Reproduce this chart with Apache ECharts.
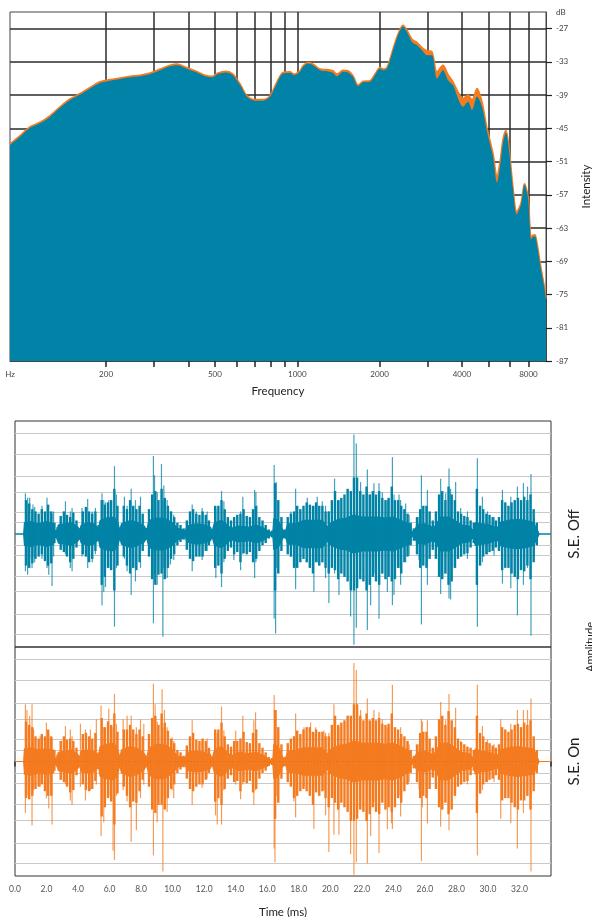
<!DOCTYPE html>
<html><head><meta charset="utf-8">
<script src="https://cdn.jsdelivr.net/npm/echarts@6/dist/echarts.min.js"></script>
<style>html,body{margin:0;padding:0;background:#fff;}#c{width:592px;height:917px;}</style>
</head><body><div id="c"></div>
<script>
const FONT = 'Lato, "Open Sans", sans-serif';
const BLUE = '#0083a6', ORANGE = '#f47b20';

// ---------- spectrum ----------
const specFreq = [89.1,97,105.5,114.8,124.9,135.8,147.7,160.7,174.8,190,207,225,245,266,290,315,343,364,389,423,460,488,513,549,582,618,655,701,750,795,843,887,941,973,1023,1050,1095,1142,1211,1285,1351,1397,1470,1533,1599,1668,1740,1845,1924,2007,2058,2128,2238,2335,2435,2519,2627,2740,2858,2980,3108,3242,3409,3557,3709,3869,4035,4209,4353,4540,4735,4939,5194,5371,5510,5650,5794,5943,6146,6341,6573,6770,6972,7090,7151,7270,7396,7523,7780,8046,8114];
const specOff = [-48.0,-46.5,-44.9,-44.1,-42.9,-41.3,-39.9,-38.9,-37.8,-36.8,-36.4,-36.1,-35.8,-35.6,-35.2,-34.5,-33.8,-33.6,-34.1,-34.8,-35.6,-35.8,-35.2,-34.9,-35.4,-37.2,-39.3,-40.0,-40.0,-39.3,-36.8,-35.1,-35.0,-35.4,-34.8,-33.9,-33.3,-33.6,-34.5,-34.7,-35.0,-35.6,-34.8,-34.9,-35.7,-37.4,-36.7,-36.6,-35.4,-34.2,-34.5,-34.2,-30.9,-28.2,-26.6,-27.6,-29.4,-30.0,-30.9,-31.8,-31.8,-36.0,-34.5,-36.3,-37.2,-39.6,-41.1,-40.2,-41.7,-39.3,-41.1,-45.6,-50.1,-54.8,-51.9,-47.6,-45.8,-48.9,-56.0,-60.5,-58.8,-55.2,-57.5,-63.0,-65.0,-64.6,-64.5,-66.0,-70.5,-74.5,-76.0];
const specOn = [-47.8,-46.3,-44.7,-43.9,-42.7,-41.1,-39.7,-38.7,-37.6,-36.6,-36.2,-35.9,-35.6,-35.4,-35.0,-34.3,-33.6,-33.4,-33.9,-34.6,-35.4,-35.6,-35.0,-34.7,-35.2,-37.0,-39.1,-39.8,-39.8,-39.1,-36.6,-34.9,-34.8,-35.2,-34.6,-33.7,-33.1,-33.4,-34.3,-34.4,-34.6,-35.2,-34.5,-34.6,-35.5,-37.2,-36.5,-36.4,-35.2,-34.0,-34.3,-34.0,-30.7,-28.0,-26.4,-27.3,-28.9,-29.5,-30.4,-31.0,-31.2,-34.8,-33.6,-35.3,-36.6,-38.4,-39.6,-39.0,-39.9,-37.8,-40.2,-45.0,-49.5,-53.6,-51.0,-47.0,-45.4,-48.5,-55.6,-60.0,-58.5,-55.0,-57.2,-62.7,-64.6,-64.3,-64.2,-65.7,-70.2,-74.2,-75.7];
const freqMin = 89.1, freqMax = 8114;
const freqTicks = [200,300,400,500,600,700,800,900,1000,2000,3000,4000,5000,6000,7000];
const freqLabelPos = [89.1,200,500,1000,2000,4000,7000];
const freqLabels = ['Hz','200','500','1000','2000','4000','8000'];
const dbTicks = [-87,-81,-75,-69,-63,-57,-51,-45,-39,-33,-27];
const dbMin = -87, dbMax = -24, dbUnit = 'dB';

// ---------- waveforms ----------
const timeMin = 0, timeMax = 34;
const ampGrid = [-0.89,-0.71,-0.51,-0.37,-0.19,-0.1,0.1,0.19,0.37,0.51,0.71,0.89];
// dense core envelope (half amplitude)
const coreT = [0,0.55,0.6,1.0,1.5,2.0,2.45,2.5,2.65,2.75,3.2,3.6,4.0,4.1,4.2,4.6,5.0,5.3,5.4,5.8,6.3,6.55,6.65,6.75,7.3,7.8,8.2,8.35,8.5,9.0,9.5,10.0,10.3,10.6,10.8,10.9,11.5,12.0,12.4,12.5,12.65,13.1,13.55,13.7,14.2,14.8,15.3,15.8,16.1,16.35,16.42,16.7,17.0,17.15,17.3,17.8,18.3,18.9,19.5,19.8,19.95,20.5,21.0,21.5,22.0,22.5,23.0,23.5,24.0,24.5,25.0,25.15,25.35,25.5,26.0,26.5,26.65,27.0,27.5,27.9,28.3,28.8,29.05,29.2,29.6,30.1,30.6,30.75,31.3,31.9,32.4,32.9,33.15,33.25,34];
const offCore = [0,0,0.1,0.11,0.09,0.11,0.09,0.03,0.03,0.08,0.09,0.1,0.06,0.03,0.08,0.1,0.09,0.05,0.12,0.14,0.15,0.09,0.03,0.09,0.12,0.1,0.07,0.03,0.12,0.14,0.14,0.1,0.05,0.04,0.02,0.07,0.09,0.08,0.06,0.02,0.1,0.12,0.07,0.05,0.07,0.06,0.08,0.05,0.02,0.01,0.14,0.12,0.03,0.02,0.09,0.09,0.12,0.12,0.12,0.06,0.09,0.13,0.14,0.17,0.15,0.15,0.15,0.14,0.15,0.12,0.09,0.02,0.03,0.08,0.09,0.06,0.07,0.15,0.15,0.12,0.08,0.07,0.03,0.1,0.09,0.08,0.05,0.1,0.12,0.13,0.12,0.1,0.03,0,0];
const onCore = [0,0,0.11,0.12,0.1,0.11,0.1,0.03,0.03,0.08,0.09,0.1,0.06,0.03,0.09,0.1,0.09,0.05,0.13,0.15,0.16,0.09,0.03,0.1,0.13,0.11,0.07,0.03,0.12,0.15,0.15,0.1,0.05,0.04,0.02,0.08,0.09,0.08,0.06,0.02,0.1,0.13,0.07,0.05,0.08,0.07,0.08,0.05,0.02,0.01,0.15,0.13,0.03,0.02,0.09,0.1,0.12,0.12,0.12,0.06,0.1,0.14,0.15,0.18,0.16,0.16,0.16,0.15,0.16,0.13,0.09,0.02,0.03,0.08,0.09,0.06,0.08,0.16,0.16,0.12,0.08,0.07,0.03,0.11,0.09,0.08,0.05,0.1,0.12,0.13,0.12,0.11,0.03,0,0];

// typical oscillation extents, rows of [time ms, top, bottom]
const offMid = [[0.7,0.30,-0.28],[0.9,0.27,-0.30],[1.1,0.22,-0.26],[1.3,0.20,-0.22],[1.5,0.18,-0.20],[1.7,0.22,-0.18],[1.9,0.20,-0.24],[2.1,0.26,-0.28],[2.3,0.20,-0.26],[2.5,0.10,-0.08],[2.7,0.06,-0.05],
[2.9,0.16,-0.14],[3.1,0.20,-0.16],[3.3,0.17,-0.20],[3.5,0.15,-0.25],[3.7,0.19,-0.22],[3.9,0.12,-0.12],[4.1,0.05,-0.05],
[4.3,0.20,-0.18],[4.5,0.24,-0.20],[4.7,0.20,-0.25],[4.9,0.18,-0.22],[5.1,0.20,-0.15],[5.3,0.08,-0.06],
[5.5,0.30,-0.45],[5.7,0.26,-0.38],[5.9,0.28,-0.30],[6.1,0.30,-0.32],[6.3,0.40,-0.50],[6.5,0.25,-0.28],[6.7,0.05,-0.05],
[6.9,0.25,-0.20],[7.1,0.22,-0.28],[7.3,0.30,-0.35],[7.5,0.25,-0.30],[7.7,0.22,-0.32],[7.9,0.25,-0.25],[8.1,0.18,-0.15],[8.3,0.05,-0.05],
[8.5,0.22,-0.20],[8.7,0.35,-0.40],[8.9,0.38,-0.45],[9.1,0.30,-0.36],[9.3,0.40,-0.35],[9.5,0.32,-0.40],[9.7,0.25,-0.30],[9.9,0.20,-0.22],[10.1,0.15,-0.18],[10.3,0.10,-0.10],[10.5,0.08,-0.07],[10.7,0.05,-0.05],
[10.9,0.12,-0.14],[11.1,0.20,-0.22],[11.3,0.22,-0.24],[11.5,0.18,-0.20],[11.7,0.17,-0.20],[11.9,0.20,-0.20],[12.1,0.17,-0.15],[12.3,0.12,-0.10],[12.5,0.04,-0.04],
[12.7,0.25,-0.30],[12.9,0.25,-0.28],[13.1,0.30,-0.35],[13.3,0.22,-0.22],[13.5,0.15,-0.15],
[13.7,0.12,-0.12],[13.9,0.15,-0.18],[14.1,0.17,-0.16],[14.3,0.18,-0.25],[14.5,0.22,-0.17],[14.7,0.16,-0.18],[14.9,0.15,-0.16],[15.1,0.22,-0.25],[15.3,0.25,-0.22],[15.5,0.15,-0.15],[15.7,0.12,-0.10],[15.9,0.08,-0.08],[16.1,0.04,-0.04],[16.3,0.03,-0.03],
[16.5,0.45,-0.50],[16.7,0.30,-0.35],[16.9,0.15,-0.15],[17.1,0.04,-0.04],
[17.3,0.15,-0.18],[17.5,0.18,-0.20],[17.7,0.20,-0.30],[17.9,0.25,-0.30],[18.1,0.22,-0.25],[18.3,0.25,-0.22],[18.5,0.28,-0.25],[18.7,0.26,-0.30],[18.9,0.25,-0.35],[19.1,0.28,-0.25],[19.3,0.25,-0.28],[19.5,0.25,-0.25],[19.7,0.20,-0.30],[19.9,0.20,-0.35],
[20.1,0.30,-0.30],[20.3,0.38,-0.32],[20.5,0.30,-0.40],[20.7,0.32,-0.35],[20.9,0.35,-0.38],[21.1,0.40,-0.42],[21.3,0.38,-0.50],[21.5,0.50,-0.50],[21.7,0.50,-0.48],[21.9,0.38,-0.40],[22.1,0.35,-0.42],[22.3,0.42,-0.50],[22.5,0.35,-0.45],[22.7,0.38,-0.38],[22.9,0.35,-0.42],[23.1,0.38,-0.45],[23.3,0.32,-0.35],[23.5,0.30,-0.40],[23.7,0.32,-0.38],[23.9,0.42,-0.42],[24.1,0.30,-0.40],[24.3,0.30,-0.30],[24.5,0.25,-0.35],[24.7,0.22,-0.25],[24.9,0.18,-0.20],[25.1,0.10,-0.10],[25.3,0.05,-0.06],
[25.5,0.15,-0.18],[25.7,0.22,-0.30],[25.9,0.25,-0.28],[26.1,0.25,-0.30],[26.3,0.20,-0.22],[26.5,0.12,-0.14],
[26.7,0.20,-0.22],[26.9,0.35,-0.38],[27.1,0.38,-0.40],[27.3,0.30,-0.35],[27.5,0.42,-0.45],[27.7,0.35,-0.42],[27.9,0.30,-0.30],[28.1,0.20,-0.22],[28.3,0.18,-0.20],[28.5,0.16,-0.18],[28.7,0.15,-0.17],[28.9,0.12,-0.12],[29.1,0.10,-0.08],
[29.3,0.40,-0.45],[29.5,0.25,-0.28],[29.7,0.22,-0.20],[29.9,0.18,-0.18],[30.1,0.17,-0.16],[30.3,0.15,-0.15],[30.5,0.12,-0.12],[30.7,0.15,-0.15],
[30.9,0.30,-0.32],[31.1,0.28,-0.30],[31.3,0.25,-0.30],[31.5,0.28,-0.35],[31.7,0.30,-0.38],[31.9,0.32,-0.40],[32.1,0.30,-0.32],[32.3,0.33,-0.33],[32.5,0.30,-0.28],[32.7,0.35,-0.40],[32.9,0.22,-0.25],[33.1,0.10,-0.10]];
const onMid = [[0.7,0.35,-0.32],[0.9,0.32,-0.33],[1.1,0.30,-0.30],[1.3,0.22,-0.24],[1.5,0.20,-0.22],[1.7,0.24,-0.20],[1.9,0.22,-0.26],[2.1,0.28,-0.30],[2.3,0.22,-0.30],[2.5,0.10,-0.08],[2.7,0.06,-0.05],
[2.9,0.18,-0.16],[3.1,0.22,-0.18],[3.3,0.19,-0.22],[3.5,0.20,-0.27],[3.7,0.18,-0.25],[3.9,0.12,-0.12],[4.1,0.05,-0.05],
[4.3,0.24,-0.20],[4.5,0.25,-0.25],[4.7,0.22,-0.26],[4.9,0.20,-0.24],[5.1,0.25,-0.17],[5.3,0.08,-0.06],
[5.5,0.38,-0.48],[5.7,0.30,-0.40],[5.9,0.35,-0.32],[6.1,0.32,-0.35],[6.3,0.42,-0.55],[6.5,0.26,-0.28],[6.7,0.05,-0.05],
[6.9,0.28,-0.22],[7.1,0.28,-0.30],[7.3,0.32,-0.40],[7.5,0.28,-0.35],[7.7,0.24,-0.36],[7.9,0.28,-0.26],[8.1,0.22,-0.16],[8.3,0.05,-0.05],
[8.5,0.24,-0.22],[8.7,0.38,-0.42],[8.9,0.40,-0.45],[9.1,0.32,-0.38],[9.3,0.42,-0.38],[9.5,0.34,-0.42],[9.7,0.27,-0.32],[9.9,0.20,-0.24],[10.1,0.16,-0.20],[10.3,0.10,-0.10],[10.5,0.08,-0.07],[10.7,0.05,-0.05],
[10.9,0.14,-0.15],[11.1,0.22,-0.24],[11.3,0.25,-0.26],[11.5,0.19,-0.22],[11.7,0.18,-0.20],[11.9,0.20,-0.20],[12.1,0.18,-0.16],[12.3,0.12,-0.10],[12.5,0.04,-0.04],
[12.7,0.28,-0.35],[12.9,0.28,-0.32],[13.1,0.34,-0.38],[13.3,0.22,-0.24],[13.5,0.15,-0.15],
[13.7,0.13,-0.12],[13.9,0.18,-0.18],[14.1,0.18,-0.17],[14.3,0.20,-0.26],[14.5,0.26,-0.18],[14.7,0.17,-0.19],[14.9,0.16,-0.17],[15.1,0.25,-0.27],[15.3,0.28,-0.24],[15.5,0.16,-0.15],[15.7,0.12,-0.10],[15.9,0.08,-0.08],[16.1,0.04,-0.04],[16.3,0.03,-0.03],
[16.5,0.45,-0.50],[16.7,0.30,-0.36],[16.9,0.15,-0.15],[17.1,0.04,-0.04],
[17.3,0.16,-0.18],[17.5,0.20,-0.22],[17.7,0.22,-0.32],[17.9,0.27,-0.30],[18.1,0.24,-0.26],[18.3,0.28,-0.24],[18.5,0.30,-0.26],[18.7,0.30,-0.30],[18.9,0.26,-0.38],[19.1,0.28,-0.27],[19.3,0.26,-0.30],[19.5,0.26,-0.26],[19.7,0.22,-0.32],[19.9,0.22,-0.40],
[20.1,0.32,-0.32],[20.3,0.40,-0.36],[20.5,0.32,-0.42],[20.7,0.34,-0.36],[20.9,0.36,-0.40],[21.1,0.40,-0.44],[21.3,0.40,-0.52],[21.5,0.50,-0.52],[21.7,0.50,-0.50],[21.9,0.40,-0.42],[22.1,0.36,-0.44],[22.3,0.42,-0.52],[22.5,0.36,-0.46],[22.7,0.38,-0.40],[22.9,0.36,-0.44],[23.1,0.38,-0.46],[23.3,0.33,-0.36],[23.5,0.32,-0.42],[23.7,0.33,-0.40],[23.9,0.42,-0.44],[24.1,0.30,-0.40],[24.3,0.28,-0.32],[24.5,0.24,-0.36],[24.7,0.22,-0.26],[24.9,0.18,-0.20],[25.1,0.10,-0.10],[25.3,0.05,-0.06],
[25.5,0.15,-0.18],[25.7,0.25,-0.32],[25.9,0.26,-0.30],[26.1,0.26,-0.32],[26.3,0.20,-0.24],[26.5,0.12,-0.14],
[26.7,0.22,-0.24],[26.9,0.37,-0.40],[27.1,0.40,-0.42],[27.3,0.32,-0.36],[27.5,0.44,-0.46],[27.7,0.36,-0.42],[27.9,0.30,-0.30],[28.1,0.20,-0.22],[28.3,0.17,-0.20],[28.5,0.15,-0.18],[28.7,0.13,-0.17],[28.9,0.12,-0.12],[29.1,0.10,-0.08],
[29.3,0.40,-0.45],[29.5,0.25,-0.28],[29.7,0.22,-0.20],[29.9,0.17,-0.18],[30.1,0.16,-0.16],[30.3,0.14,-0.15],[30.5,0.12,-0.12],[30.7,0.15,-0.16],
[30.9,0.30,-0.34],[31.1,0.28,-0.32],[31.3,0.26,-0.32],[31.5,0.28,-0.36],[31.7,0.32,-0.40],[31.9,0.33,-0.42],[32.1,0.30,-0.34],[32.3,0.34,-0.34],[32.5,0.32,-0.30],[32.7,0.36,-0.42],[32.9,0.22,-0.26],[33.1,0.10,-0.10]];

// isolated peaks
const offSpikeT = [0.66,0.80,0.93,1.08,1.14,1.25,1.71,2.03,2.14,2.35,2.45,3.2,3.51,3.62,4.25,4.61,4.9,5.1,5.52,5.63,5.74,5.95,6.31,6.43,6.94,7.11,7.37,7.64,7.96,8.78,8.85,9.02,9.29,9.38,9.44,9.65,9.86,10.07,11.24,11.5,11.87,12.19,12.74,13.1,13.25,13.88,14.31,14.45,15.2,15.28,16.44,16.53,16.57,17.5,17.8,18.54,18.96,19.17,19.49,19.7,19.91,20.27,20.55,21.29,21.5,21.65,21.92,22.35,22.56,22.77,23.09,23.3,23.62,23.94,24.04,24.36,24.46,24.78,25.0,25.63,25.78,26.16,27.0,27.32,27.53,27.63,27.95,28.27,28.7,29.33,29.65,29.97,30.39,30.92,31.45,31.87,32.25,32.51,32.73,32.94];
const offSpikeHi = [0.36,0.32,0.32,0.20,0.26,0.24,0.25,0.32,0.20,0.18,0.20,0.29,0.20,0.23,0.23,0.31,0.20,0.23,0.36,0.30,0.28,0.30,0.60,0.35,0.33,0.25,0.40,0.30,0.33,0.69,0.52,0.37,0.62,0.30,0.43,0.30,0.20,0.17,0.26,0.20,0.23,0.20,0.22,0.38,0.29,0.15,0.20,0.33,0.39,0.37,0.61,0.35,0.46,0.20,0.40,0.32,0.25,0.33,0.29,0.25,0.20,0.49,0.30,0.35,0.88,0.80,0.46,0.57,0.35,0.45,0.45,0.37,0.30,0.68,0.35,0.35,0.30,0.27,0.17,0.15,0.52,0.39,0.49,0.36,0.58,0.40,0.46,0.23,0.20,0.67,0.33,0.20,0.15,0.39,0.33,0.42,0.45,0.42,0.53,0.14];
const offSpikeLo = [-0.33,-0.36,-0.22,-0.30,-0.20,-0.25,-0.22,-0.30,-0.36,-0.46,-0.20,-0.18,-0.30,-0.33,-0.20,-0.30,-0.25,-0.18,-0.63,-0.51,-0.47,-0.30,-0.82,-0.30,-0.22,-0.33,-0.54,-0.42,-0.30,-0.79,-0.35,-0.45,-0.35,-0.91,-0.30,-0.39,-0.27,-0.23,-0.33,-0.20,-0.23,-0.15,-0.39,-0.47,-0.25,-0.23,-0.32,-0.18,-0.39,-0.25,-0.75,-0.88,-0.30,-0.20,-0.49,-0.25,-0.51,-0.25,-0.25,-0.39,-0.61,-0.35,-0.54,-0.73,-0.98,-0.83,-0.35,-0.85,-0.63,-0.35,-0.75,-0.35,-0.51,-0.63,-0.54,-0.30,-0.45,-0.25,-0.19,-0.23,-0.80,-0.45,-0.53,-0.35,-0.57,-0.58,-0.30,-0.20,-0.22,-0.82,-0.25,-0.18,-0.19,-0.44,-0.48,-0.72,-0.45,-0.30,-0.90,-0.20];
const onSpikeT = [0.66,0.76,0.93,1.08,1.18,1.6,1.99,2.14,2.24,2.35,3.2,3.51,3.62,4.15,4.47,4.78,5.16,5.46,5.63,5.95,6.22,6.31,6.43,6.86,7.11,7.37,7.7,7.96,8.17,8.78,8.89,9.02,9.33,9.38,9.48,9.65,9.97,10.07,11.09,11.24,11.87,12.19,12.72,12.83,13.1,13.25,14.0,14.31,14.45,15.15,15.26,16.44,16.49,16.57,17.69,17.8,18.33,18.75,18.96,19.07,19.6,19.7,19.91,20.23,20.55,21.29,21.5,21.65,21.92,22.35,22.56,22.77,23.09,23.3,23.62,23.88,23.94,24.36,24.46,24.88,25.0,25.63,25.78,25.84,26.16,27.0,27.32,27.53,27.95,28.27,28.7,29.33,29.65,29.97,30.39,30.81,31.45,31.87,32.25,32.51,32.73,32.94];
const onSpikeHi = [0.50,0.45,0.40,0.50,0.28,0.22,0.34,0.25,0.21,0.20,0.31,0.28,0.22,0.33,0.28,0.28,0.37,0.49,0.30,0.46,0.30,0.59,0.33,0.37,0.40,0.40,0.30,0.37,0.33,0.68,0.50,0.35,0.63,0.30,0.45,0.30,0.21,0.18,0.20,0.36,0.18,0.20,0.22,0.25,0.48,0.27,0.27,0.20,0.40,0.36,0.43,0.58,0.35,0.45,0.22,0.42,0.30,0.34,0.25,0.30,0.27,0.25,0.25,0.50,0.30,0.35,0.86,0.80,0.45,0.55,0.35,0.45,0.43,0.37,0.30,0.30,0.67,0.20,0.30,0.18,0.15,0.15,0.37,0.35,0.36,0.52,0.36,0.59,0.47,0.18,0.12,0.67,0.31,0.19,0.15,0.37,0.33,0.45,0.45,0.45,0.55,0.18];
const onSpikeLo = [-0.45,-0.30,-0.25,-0.56,-0.25,-0.22,-0.32,-0.41,-0.20,-0.55,-0.20,-0.34,-0.38,-0.22,-0.34,-0.25,-0.20,-0.65,-0.53,-0.30,-0.78,-0.86,-0.30,-0.25,-0.35,-0.70,-0.60,-0.32,-0.20,-0.82,-0.35,-0.53,-0.35,-0.96,-0.30,-0.44,-0.25,-0.32,-0.20,-0.38,-0.23,-0.15,-0.47,-0.55,-0.55,-0.25,-0.20,-0.33,-0.20,-0.38,-0.25,-0.76,-0.88,-0.30,-0.35,-0.49,-0.22,-0.25,-0.59,-0.25,-0.25,-0.47,-0.79,-0.64,-0.64,-0.81,-0.99,-0.88,-0.35,-0.89,-0.65,-0.35,-0.80,-0.35,-0.59,-0.54,-0.59,-0.30,-0.48,-0.20,-0.18,-0.24,-0.87,-0.40,-0.54,-0.57,-0.35,-0.60,-0.30,-0.20,-0.20,-0.82,-0.25,-0.18,-0.18,-0.50,-0.54,-0.76,-0.45,-0.30,-0.96,-0.20];

// ---------- build ----------
const L = Math.log10;
const dark = '#2b2b2b';

function vlineSeries(xi, yi, rows, color, width, opacity, z) {
  return {
    type: 'custom', xAxisIndex: xi, yAxisIndex: yi, z: z, clip: true, silent: true,
    encode: {x: 0, y: [1, 2]},
    data: rows,
    renderItem: (params, api) => {
      const p1 = api.coord([api.value(0), api.value(1)]);
      const p2 = api.coord([api.value(0), api.value(2)]);
      return {type: 'line', shape: {x1: p1[0], y1: p1[1], x2: p2[0], y2: p2[1]},
        style: {stroke: color, lineWidth: width, opacity: opacity}};
    }
  };
}
function coreSeries(xi, yi, C, sign, color) {
  return {
    type: 'line', xAxisIndex: xi, yAxisIndex: yi, z: 3, symbol: 'none', silent: true,
    data: coreT.map((t, i) => [t, sign * C[i]]),
    lineStyle: {color: color, width: 1.2},
    areaStyle: {color: color, opacity: 1, origin: 0}
  };
}
function waveY(name, gi) {
  return {
    type: 'value', gridIndex: gi, position: 'right', min: -1, max: 1,
    axisLine: {show: false}, axisLabel: {show: false},
    axisTick: {show: false, customValues: ampGrid},
    splitLine: {show: true, lineStyle: {color: '#c9c9c9', width: 1.2}},
    name: name, nameLocation: 'middle', nameRotate: 90, nameGap: 16,
    nameTextStyle: {fontSize: 15, color: '#222', fontFamily: FONT}
  };
}

const chart = echarts.init(document.getElementById('c'), null, {renderer: 'canvas'});
chart.setOption({
  animation: false,
  backgroundColor: '#fff',
  textStyle: {fontFamily: FONT},
  grid: [
    {left: 10, right: 46, top: 12, height: 349, show: true, borderColor: '#444', borderWidth: 1, outerBoundsMode: 'none', containLabel: false},
    {left: 15, right: 41, top: 421, height: 226, show: true, borderColor: '#333', borderWidth: 1, outerBoundsMode: 'none', containLabel: false},
    {left: 15, right: 41, top: 647, height: 229, show: true, borderColor: '#333', borderWidth: 1, outerBoundsMode: 'none', containLabel: false}
  ],
  xAxis: [
    {type: 'value', gridIndex: 0, min: L(freqMin), max: L(freqMax),
     axisLine: {show: true, lineStyle: {color: '#444', width: 1}},
     axisTick: {show: true, customValues: freqTicks.map(L), length: 6, lineStyle: {color: '#222', width: 1.5}},
     axisLabel: {show: true, customValues: freqLabelPos.map(L), fontSize: 8, color: '#444', margin: 9, fontFamily: FONT,
       formatter: v => { const i = freqLabelPos.findIndex(f => Math.abs(L(f) - v) < 1e-6); return i >= 0 ? freqLabels[i] : ''; }},
     splitLine: {show: true, lineStyle: {color: dark, width: 1.5}},
     name: 'Frequency', nameLocation: 'middle', nameGap: 24,
     nameTextStyle: {fontSize: 11.5, color: '#222', fontFamily: FONT}},
    {type: 'value', gridIndex: 1, min: timeMin, max: timeMax, show: false, splitLine: {show: false}},
    {type: 'value', gridIndex: 2, min: timeMin, max: timeMax, interval: 1,
     axisLine: {show: true, lineStyle: {color: '#333', width: 1.2}},
     axisTick: {show: true, length: 5, lineStyle: {color: '#333', width: 1.5}},
     axisLabel: {fontSize: 8.5, color: '#555', margin: 9, fontFamily: FONT,
       formatter: v => (Math.round(v) % 2 === 0 && v < timeMax) ? v.toFixed(1) : ''},
     splitLine: {show: false},
     name: 'Time (ms)', nameLocation: 'middle', nameGap: 30,
     nameTextStyle: {fontSize: 11.5, color: '#222', fontFamily: FONT}}
  ],
  yAxis: [
    {type: 'value', gridIndex: 0, position: 'right', min: dbMin, max: dbMax,
     axisLine: {show: true, lineStyle: {color: '#444', width: 1}},
     axisTick: {show: true, customValues: dbTicks, length: 6, lineStyle: {color: '#222', width: 1.2}},
     axisLabel: {show: true, customValues: dbTicks.concat([dbMax]), fontSize: 8, color: '#444', margin: 10, fontFamily: FONT,
       formatter: v => v === dbMax ? dbUnit : String(v)},
     splitLine: {show: true, lineStyle: {color: dark, width: 1.5}},
     name: 'Intensity', nameLocation: 'middle', nameRotate: 90, nameGap: 34,
     nameTextStyle: {fontSize: 11.5, color: '#222', fontFamily: FONT}},
    waveY('S.E. Off', 1),
    waveY('S.E. On', 2)
  ],
  graphic: [
    {type: 'text', x: 590, y: 647, rotation: Math.PI / 2,
     style: {text: 'Amplitude', fontSize: 11, fill: '#222', fontFamily: FONT, textAlign: 'center', textVerticalAlign: 'middle'}}
  ],
  series: [
    {type: 'line', xAxisIndex: 0, yAxisIndex: 0, z: 2, symbol: 'none', smooth: 0.3, silent: true,
     data: specFreq.map((f, i) => [L(f), specOn[i]]),
     lineStyle: {color: ORANGE, width: 1.5}, areaStyle: {color: ORANGE, opacity: 1, origin: 'start'}},
    {type: 'line', xAxisIndex: 0, yAxisIndex: 0, z: 3, symbol: 'none', smooth: 0.3, silent: true,
     data: specFreq.map((f, i) => [L(f), specOff[i]]),
     lineStyle: {width: 0}, areaStyle: {color: BLUE, opacity: 1, origin: 'start'}},
    coreSeries(1, 1, offCore, 1, BLUE),
    coreSeries(1, 1, offCore, -1, BLUE),
    vlineSeries(1, 1, offMid, BLUE, 2.4, 1, 4),
    vlineSeries(1, 1, offSpikeT.map((t, i) => [t, offSpikeHi[i], offSpikeLo[i]]), BLUE, 1.2, 0.75, 5),
    coreSeries(2, 2, onCore, 1, ORANGE),
    coreSeries(2, 2, onCore, -1, ORANGE),
    vlineSeries(2, 2, onMid, ORANGE, 2.4, 1, 4),
    vlineSeries(2, 2, onSpikeT.map((t, i) => [t, onSpikeHi[i], onSpikeLo[i]]), ORANGE, 1.2, 0.75, 5)
  ]
});
</script></body></html>
